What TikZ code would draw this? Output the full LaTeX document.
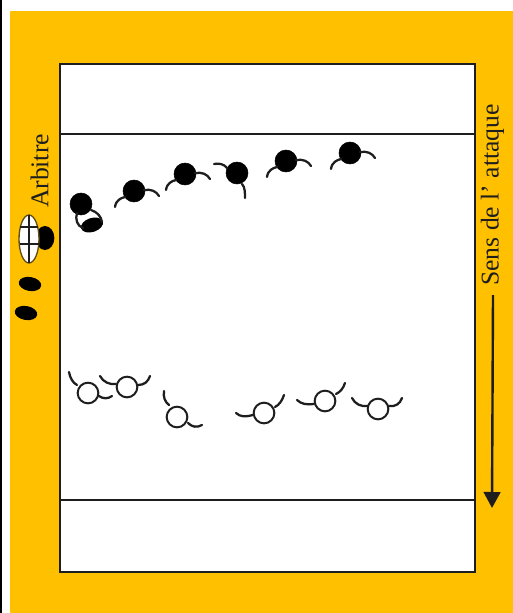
\documentclass[tikz,border=0pt]{standalone}
\usepackage{fontspec}
\setmainfont{Liberation Serif}
\usetikzlibrary{arrows.meta,shapes.geometric}
\definecolor{bgorange}{RGB}{255,192,0}
\definecolor{ink}{RGB}{30,30,30}
\newcommand{\armpath}[5]{\draw[arm,shift={(#1.center)}] #2 .. controls #3 and #4 .. #5;}
\begin{document}
\begin{tikzpicture}[x=0.75pt,y=-0.75pt,
  ln/.style={draw=ink,line width=1.5pt},
  arm/.style={draw=ink,line width=1.7pt,line cap=round},
  bplayer/.style={circle,fill=black,draw=black,inner sep=0pt,minimum size=16.5pt},
  wplayer/.style={circle,fill=white,draw=ink,line width=1.5pt,inner sep=0pt,minimum size=15.5pt},
  blob/.style={ellipse,fill=black,inner sep=0pt},
  lab/.style={font=\fontsize{19.2pt}{20pt}\selectfont,rotate=90,inner sep=0pt,text=ink}]
\useasboundingbox (0,0) rectangle (513,613);
\fill[white] (0,0) rectangle (513,613);
\fill[black] (0,0) rectangle (2,613);
\fill[bgorange] (10,11) rectangle (513,613);
% court
\draw[ln,fill=white] (60,64) rectangle (475,572);
\coordinate (l1a) at (60,134); \coordinate (l1b) at (475,134);
\coordinate (l2a) at (60,500); \coordinate (l2b) at (475,500);
\draw[ln] (l1a) -- (l1b);
\draw[ln] (l2a) -- (l2b);
% labels
\node[lab] (arb) at (39.5,171) {Arbitre};
\node[lab] (sens) at (492.5,195) {Sens de l' attaque};
\coordinate (as) at (493,295); \coordinate (ae) at (492,508);
\draw[draw=ink,line width=1.8pt,-{Triangle[length=12pt,width=12.5pt]}] (as) -- (ae);
% referee and ball
\node[blob,minimum width=14pt,minimum height=18pt] (refb) at (45,238) {};
\draw[draw=ink!70!bgorange,line width=1pt,fill=white] (29,239) ellipse [x radius=10,y radius=24];
\coordinate (rv1) at (29,215); \coordinate (rv2) at (29,263);
\coordinate (rh1a) at (19.5,227); \coordinate (rh1b) at (38,227);
\coordinate (rh2a) at (19.5,244); \coordinate (rh2b) at (39,244);
\draw[draw=ink,line width=1pt] (rv1) -- (rv2) (rh1a) -- (rh1b) (rh2a) -- (rh2b);
\node[blob,rotate=-10,minimum width=17pt,minimum height=10.5pt] (f1) at (30,284) {};
\node[blob,rotate=-10,minimum width=17pt,minimum height=10.5pt] (f2) at (26,313) {};
% player with the ball
\node[blob,rotate=18,minimum width=17pt,minimum height=10.5pt] (k) at (92,225) {};
\node[bplayer] (b1) at (81,204) {};
\armpath{b1}{(-4,9)}{(-6,15)}{(-4,22)}{(2,24)}
\armpath{b1}{(10,6)}{(16,8)}{(20,12)}{(21,18)}
% black players
\node[bplayer] (b2) at (134,191) {};
\node[bplayer] (b3) at (185,174) {};
\node[bplayer] (b4) at (237,173) {};
\node[bplayer] (b5) at (286,161) {};
\node[bplayer] (b6) at (350,153) {};
\foreach \p in {b2,b3,b5,b6}{
  \armpath{\p}{(-9,6)}{(-13,7)}{(-18,9)}{(-19,16)}
  \armpath{\p}{(10,-1)}{(17,-2)}{(22,0)}{(25,5)}
}
\armpath{b4}{(-10,-5)}{(-13,-9)}{(-18,-10)}{(-23,-9)}
\armpath{b4}{(5,11)}{(8,14)}{(8,20)}{(8,25)}
% white players
\node[wplayer] (w1) at (88,393) {};
\node[wplayer] (w2) at (127,387) {};
\node[wplayer] (w3) at (177,417) {};
\node[wplayer] (w4) at (264,413) {};
\node[wplayer] (w5) at (325,401) {};
\node[wplayer] (w6) at (378,409) {};
\armpath{w1}{(-11,-8)}{(-15,-10)}{(-18,-15)}{(-19,-21)}
\armpath{w1}{(11,3)}{(15,6)}{(20,6)}{(24,3)}
\armpath{w2}{(-11,-3)}{(-17,-2)}{(-24,-5)}{(-27,-11)}
\armpath{w2}{(11,-2)}{(17,-2)}{(21,-5)}{(23,-11)}
\armpath{w3}{(-8,-12)}{(-12,-15)}{(-14,-20)}{(-13,-26)}
\armpath{w3}{(11,6)}{(15,10)}{(20,11)}{(25,8)}
\armpath{w4}{(-11,2)}{(-18,4)}{(-24,4)}{(-28,0)}
\armpath{w4}{(11,-6)}{(15,-8)}{(18,-12)}{(20,-18)}
\armpath{w5}{(-11,3)}{(-18,4)}{(-24,3)}{(-28,-1)}
\armpath{w5}{(11,-7)}{(15,-9)}{(18,-12)}{(20,-18)}
\armpath{w6}{(-10,-3)}{(-17,-2)}{(-23,-5)}{(-26,-11)}
\armpath{w6}{(11,-3)}{(17,-2)}{(22,-5)}{(24,-11)}
\end{tikzpicture}
\end{document}
